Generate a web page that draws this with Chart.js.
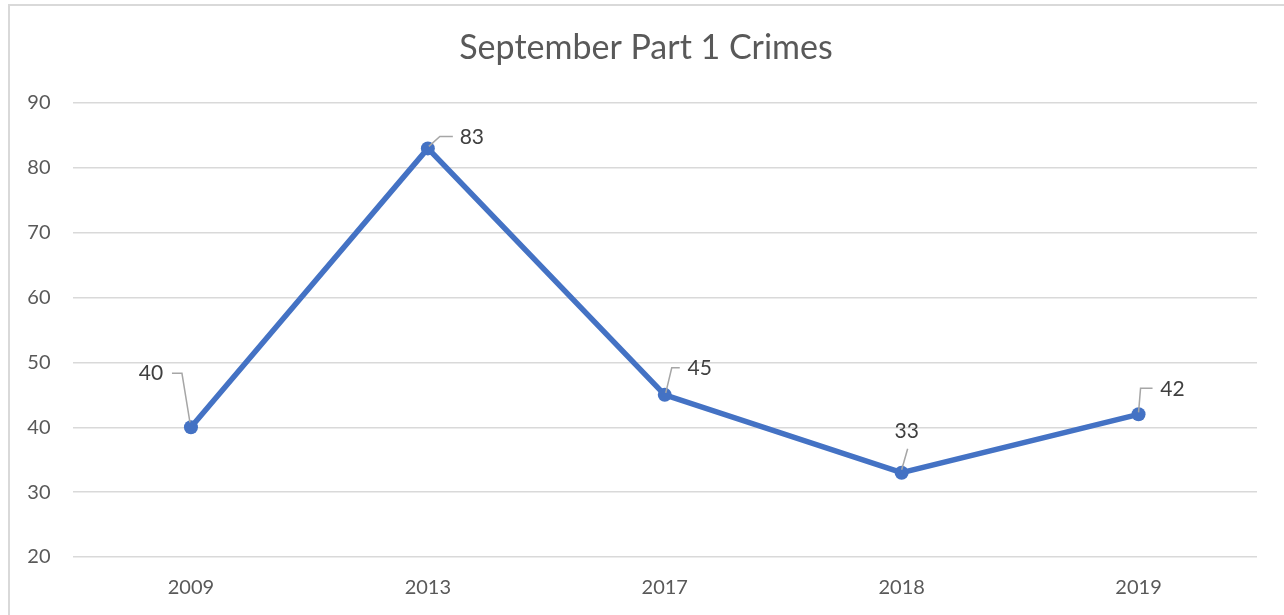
<!DOCTYPE html>
<html>
<head>
<meta charset="utf-8">
<script src="https://cdn.jsdelivr.net/npm/chart.js@4.4.0/dist/chart.umd.min.js"></script>
<style>
    html, body { margin: 0; padding: 0; background: #ffffff; }
    #wrap { width: 1284px; height: 615px; position: relative; }
</style>
</head>
<body>
<div id="wrap"><canvas id="crimesChart" width="1284" height="615"></canvas></div>
<script>
// Datos del gráfico
const years = ['2009', '2013', '2017', '2018', '2019'];
const crimes = [40, 83, 45, 33, 42];
const yTicks = [20, 30, 40, 50, 60, 70, 80, 90];

const FONT = 'Lato, "Open Sans", sans-serif';

// Marco gris del gráfico (solo arriba e izquierda se ven)
const framePlugin = {
    id: 'frame',
    beforeDraw(chart) {
        const ctx = chart.ctx;
        ctx.save();
        ctx.fillStyle = '#ffffff';
        ctx.fillRect(0, 0, chart.width, chart.height);
        ctx.strokeStyle = '#d9d9d9';
        ctx.lineWidth = 2;
        ctx.beginPath();
        ctx.moveTo(9, chart.height);
        ctx.lineTo(9, 5);
        ctx.lineTo(chart.width, 5);
        ctx.stroke();
        // título
        ctx.fillStyle = '#595959';
        ctx.font = '34px ' + FONT;
        ctx.textAlign = 'center';
        ctx.textBaseline = 'middle';
        ctx.fillText('September Part 1 Crimes', 646, 48);
        ctx.restore();
    }
};

// Etiquetas de datos con líneas guía, como en Excel
const leaderLabels = {
    id: 'leaderLabels',
    afterDatasetsDraw(chart, args, opts) {
        const ctx = chart.ctx;
        const meta = chart.getDatasetMeta(0);
        ctx.save();
        meta.data.forEach((pt, i) => {
            const cfg = opts.items[i];
            // línea guía
            ctx.strokeStyle = '#a6a6a6';
            ctx.lineWidth = 1.5;
            ctx.beginPath();
            cfg.leader.forEach((p, j) => {
                if (j === 0) ctx.moveTo(pt.x + p[0], pt.y + p[1]);
                else ctx.lineTo(pt.x + p[0], pt.y + p[1]);
            });
            ctx.stroke();
            // texto
            ctx.fillStyle = '#404040';
            ctx.font = '21px ' + FONT;
            ctx.textAlign = 'center';
            ctx.textBaseline = 'middle';
            ctx.fillText(String(crimes[i]), pt.x + cfg.dx, pt.y + cfg.dy);
        });
        ctx.restore();
    }
};

const ctx = document.getElementById('crimesChart').getContext('2d');
const crimesChart = new Chart(ctx, {
    type: 'line',
    data: {
        labels: years,
        datasets: [{
            data: crimes,
            borderColor: '#4472c4',
            backgroundColor: '#4472c4',
            borderWidth: 5.5,
            pointRadius: 7,
            pointBorderWidth: 0,
            pointBackgroundColor: '#4472c4',
            tension: 0,
            clip: false
        }]
    },
    options: {
        responsive: false,
        animation: false,
        layout: {
            padding: { top: 103, right: 27, bottom: 0, left: 0 }
        },
        plugins: {
            legend: { display: false },
            title: { display: false },
            tooltip: { enabled: false },
            leaderLabels: {
                items: [
                    { dx: -40, dy: -54, leader: [[-19, -54], [-9, -54], [-1, -5]] },
                    { dx: 44, dy: -11, leader: [[25, -12], [12, -12], [1, -2]] },
                    { dx: 35, dy: -27, leader: [[15, -27], [7, -27], [1, -2]] },
                    { dx: 5, dy: -41, leader: [[6, -24], [0, -3]] },
                    { dx: 34, dy: -25, leader: [[14, -26], [2, -26], [0, -2]] }
                ]
            }
        },
        scales: {
            x: {
                offset: true,
                grid: { display: false, drawTicks: false },
                border: { display: false },
                ticks: {
                    color: '#595959',
                    font: { family: FONT, size: 20 },
                    padding: 19
                },
                afterFit: (scale) => { scale.height = 58; }
            },
            y: {
                min: 20,
                max: 90,
                afterBuildTicks: (scale) => {
                    scale.ticks = yTicks.map(v => ({ value: v }));
                },
                grid: { color: '#d9d9d9', lineWidth: 1.5, drawTicks: false },
                border: { display: false },
                ticks: {
                    color: '#595959',
                    font: { family: FONT, size: 20 },
                    padding: 22
                },
                afterFit: (scale) => { scale.width = 72.5; }
            }
        }
    },
    plugins: [framePlugin, leaderLabels]
});
</script>
</body>
</html>
